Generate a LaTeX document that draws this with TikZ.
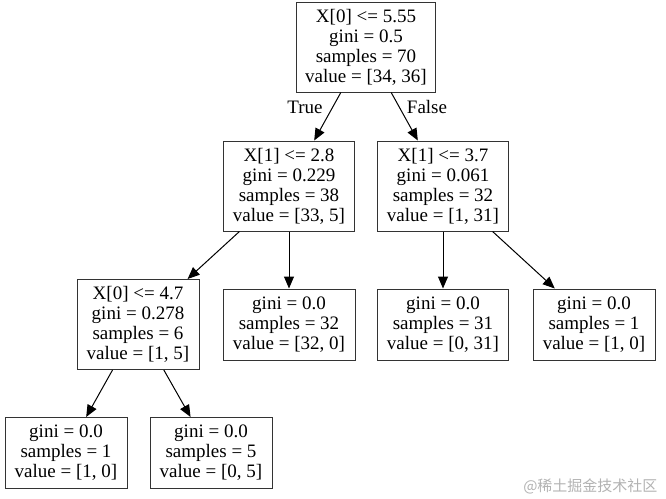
\documentclass[tikz,border=0pt]{standalone}
\usepackage{fontspec}
\setmainfont{Liberation Serif}
\newfontfamily\cjkfont{Noto Sans CJK SC}
\usepackage{tikz}
\usetikzlibrary{arrows.meta}

\begin{document}
\begin{tikzpicture}[x=1pt,y=-1pt,
    treebox/.style={draw=black!80,line width=1pt,align=center,
      font=\fontsize{19}{20}\selectfont,inner sep=0pt},
    splitbox/.style={treebox,minimum height=90},
    leafbox/.style={treebox,minimum height=71},
    edge/.style={-{Triangle[length=12pt,width=10pt]},line width=1pt},
    edgelabel/.style={font=\fontsize{19}{20}\selectfont}]
        \useasboundingbox (0,0) rectangle (666,498);

        % --- 分岐 ---
        \node[splitbox,minimum width=139] (root) at (366,47)
          {X[0] <= 5.55\\gini = 0.5\\samples = 70\\value = [34, 36]};
        \node[splitbox,minimum width=131] (left) at (289,186)
          {X[1] <= 2.8\\gini = 0.229\\samples = 38\\value = [33, 5]};
        \node[splitbox,minimum width=131] (right) at (443,186)
          {X[1] <= 3.7\\gini = 0.061\\samples = 32\\value = [1, 31]};
        \node[splitbox,minimum width=122] (leftleft) at (138,324.5)
          {X[0] <= 4.7\\gini = 0.278\\samples = 6\\value = [1, 5]};

        % --- 葉 ---
        \node[leafbox,minimum width=132] (leaf32) at (289,324.5)
          {gini = 0.0\\samples = 32\\value = [32, 0]};
        \node[leafbox,minimum width=131] (leaf31) at (443,324.5)
          {gini = 0.0\\samples = 31\\value = [0, 31]};
        \node[leafbox,minimum width=122] (leaf1r) at (594,324.5)
          {gini = 0.0\\samples = 1\\value = [1, 0]};
        \node[leafbox,minimum width=122] (leaf1l) at (66,453)
          {gini = 0.0\\samples = 1\\value = [1, 0]};
        \node[leafbox,minimum width=122] (leaf5) at (211,453)
          {gini = 0.0\\samples = 5\\value = [0, 5]};

        % --- 枝 ---
        \draw[edge] (root) -- (left);
        \draw[edge] (root) -- (right);
        \draw[edge] (left) -- (leftleft);
        \draw[edge] (left) -- (leaf32);
        \draw[edge] (right) -- (leaf31);
        \draw[edge] (right) -- (leaf1r);
        \draw[edge] (leftleft) -- (leaf1l);
        \draw[edge] (leftleft) -- (leaf5);

        % ラベル
        \node[edgelabel] (true) at (305,107) {True};
        \node[edgelabel] (false) at (427,107) {False};
        \node[font=\cjkfont\fontsize{15}{15}\selectfont,text=black!30,anchor=east]
          (mark) at (661,486) {@稀土掘金技术社区};
      \end{tikzpicture}
\end{document}
